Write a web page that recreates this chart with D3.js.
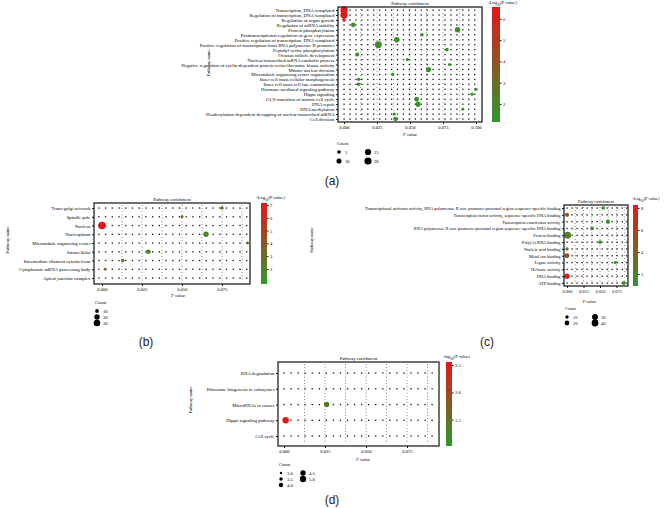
<!DOCTYPE html>
<html><head><meta charset="utf-8">
<script src="https://cdn.jsdelivr.net/npm/d3@7"></script>
<style>body{margin:0;background:#fff}svg{display:block}text{font-family:"Liberation Serif","Times New Roman",serif}</style>
</head><body><svg id="c" width="667" height="508"></svg>
<script>
// ---------- DATA ----------
const aCategories = ["Transcription, DNA-templated","Regulation of transcription, DNA-templated","Regulation of organ growth","Regulation of mRNA stability","Protein phosphorylation","Posttranscriptional regulation of gene expression","Positive regulation of transcription, DNA-templated","Positive regulation of transcription from RNA polymerase II promoter","Peptidyl-serine phosphorylation","Ovarian follicle development","Nuclear-transcribed mRNA catabolic process","Negative regulation of cyclin-dependent protein serine/threonine kinase activity","Mitotic nuclear division","Microtubule organizing center organization","Inner cell mass cellular morphogenesis","Inner cell mass cell fate commitment","Hormone-mediated signaling pathway","Hippo signaling","G1/S transition of mitotic cell cycle","DNA repair","DNA methylation","Deadenylation-dependent decapping of nuclear-transcribed mRNA","Cell division"];
const aPointCat   = [0,1,2,3,4,5,6,7,8,9,10,11,12,13,14,15,16,17,18,19,20,21,22];
const aPointP     = [0.000,0.000,0.000,0.007,0.086,0.059,0.040,0.026,0.078,0.010,0.048,0.080,0.064,0.037,0.011,0.011,0.100,0.097,0.055,0.056,0.090,0.038,0.039];
const aPointCount = [20,20,5,8,12,5,12,18,5,6,4,4,10,4,4,5,4,4,9,10,4,4,7];
const aPointLogP  = [6.5,6.3,6.0,1.6,1.6,1.5,1.6,1.8,1.5,1.6,1.4,1.4,1.5,1.4,1.5,1.5,1.4,1.4,1.5,1.5,1.4,1.4,1.5];
const aXTicks = [0,0.025,0.05,0.075,0.1];
const aCbarTicks = [2,3,4,5,6];
const aLegendCounts = [5,10,15,20];
const aBgP = [0.000,0.0045,0.009,0.0135,0.018,0.0225,0.027,0.0315,0.036,0.0405,0.045,0.0495,0.054,0.0585,0.063,0.0675,0.072,0.0765,0.081,0.0855,0.090,0.0945,0.099];

const bCategories = ["Trans-golgi network","Spindle pole","Nucleus","Nucleoplasm","Microtubule organizing center","Intracellular","Intermediate filament cytoskeleton","Cytoplasmic mRNA processing body","Apical junction complex"];
const bPointCat   = [0,1,2,3,4,5,6,7];
const bPointP     = [0.075,0.050,0.000,0.065,0.091,0.029,0.013,0.002];
const bPointCount = [8,6,40,20,6,15,8,6];
const bPointLogP  = [2.3,2.0,7.0,1.8,2.0,2.0,2.4,2.4];
const bXTicks = [0,0.025,0.05,0.075];
const bCbarTicks = [2,3,4,5,6,7];
const bLegendCounts = [10,20,30];
const bBgP = [-0.002,0.0022,0.0064,0.0106,0.0148,0.019,0.0232,0.0274,0.0316,0.0358,0.040,0.0442,0.0484,0.0526,0.0568,0.061,0.0652,0.0694,0.0736,0.0778,0.082,0.0862,0.0904];

const cCategories = ["Transcriptional activator activity, RNA polymerase II core promoter proximal region sequence-specific binding","Transcription factor activity, sequence-specific DNA binding","Transcription coactivator activity","RNA polymerase II core promoter proximal region sequence-specific DNA binding","Protein binding","Poly(A) RNA binding","Nucleic acid binding","Metal ion binding","Ligase activity","Helicase activity","DNA binding","ATP binding"];
const cPointCat   = [0,1,2,3,4,5,6,7,8,10,11];
const cPointP     = [0.055,0.000,0.062,0.038,0.001,0.050,0.000,0.000,0.073,0.000,0.086];
const cPointCount = [10,15,15,12,40,12,10,20,8,25,15];
const cPointLogP  = [1.5,4.8,1.6,1.8,2.3,1.6,3.3,5.0,1.5,8.0,1.5];
const cXTicks = [0,0.025,0.05,0.075];
const cCbarTicks = [2,4,6,8];
const cLegendCounts = [10,20,30,40];
const cBgP = [0.000,0.0076,0.0152,0.0228,0.0304,0.038,0.0456,0.0532,0.0608,0.0684,0.076,0.0836,0.0905];

const dCategories = ["RNA degradation","Ribosome biogenesis in eukaryotes","MicroRNAs in cancer","Hippo signaling pathway","Cell cycle"];
const dPointCat   = [2,3];
const dPointP     = [0.026,0.001];
const dPointCount = [4.5,5.0];
const dPointLogP  = [1.4,2.55];
const dXTicks = [0,0.025,0.05,0.075];
const dCbarTicks = [1.5,2.0,2.5];
const dLegendCounts = [3.0,3.5,4.0,4.5,5.0];
const dBgP = [0.000,0.0043,0.0086,0.0129,0.0172,0.0215,0.0258,0.0301,0.0344,0.0387,0.043,0.0473,0.0516,0.0559,0.0602,0.0645,0.0688,0.0731,0.0774,0.0817,0.086,0.0903];

const gridP = [0.0125,0.025,0.0375,0.05,0.0625,0.075,0.0875];

// ---------- DRAW ----------
const svg = d3.select("#c");
const LOW = "#2b9a2b", HIGH = "#e8141c";
let gid = 0;

function panel(o){
  const g = svg.append("g");
  const x = d3.scaleLinear().domain([0,0.1]).range(o.xr);
  const y = d3.scalePoint().domain(o.cats).range(o.yr);
  const col = d3.scaleLinear().domain(o.cdom).range([LOW,HIGH]).interpolate(d3.interpolateRgb).clamp(true);
  const r = o.rScale;
  const [bx0,bx1,by0,by1] = o.box;
  g.selectAll(".vg").data(gridP.filter(p=>x(p)<bx1-2)).join("line")
    .attr("x1",d=>x(d)).attr("x2",d=>x(d)).attr("y1",by0+2).attr("y2",by1-2)
    .attr("stroke","#111").attr("stroke-width",0.7).attr("stroke-dasharray","0.7,"+o.vdash);
  const bg=[];
  o.cats.forEach(c=>o.bg.forEach(p=>bg.push({c,p})));
  g.selectAll(".bg").data(bg).join("rect")
    .attr("x",d=>x(d.p)-0.6).attr("y",d=>y(d.c)-0.6).attr("width",1.3).attr("height",1.3).attr("fill","#111");
  const pts = o.pc.map((c,i)=>({c:o.cats[c],p:o.pp[i],n:o.pn[i],v:o.pv[i]}));
  g.selectAll(".pt").data(pts).join("circle")
    .attr("cx",d=>x(d.p)).attr("cy",d=>y(d.c)).attr("r",d=>r(d.n)).attr("fill",d=>col(d.v));
  g.append("rect").attr("x",bx0).attr("y",by0).attr("width",bx1-bx0).attr("height",by1-by0)
    .attr("fill","none").attr("stroke","#111").attr("stroke-width",o.bw);
  const xa = g.append("g").attr("transform",`translate(0,${by1})`)
    .call(d3.axisBottom(x).tickValues(o.xt).tickFormat(d3.format(".3f")).tickSize(2).tickPadding(2));
  xa.select(".domain").remove();
  xa.selectAll("text").attr("font-size",o.fs).attr("font-family","Liberation Serif").attr("fill","#000");
  xa.selectAll("line").attr("stroke","#111");
  const ya = g.append("g").attr("transform",`translate(${bx0},0)`)
    .call(d3.axisLeft(y).tickSize(2).tickPadding(1.5));
  ya.select(".domain").remove();
  ya.selectAll("text").attr("font-size",o.yfs).attr("font-family","Liberation Serif").attr("fill","#000");
  ya.selectAll("line").attr("stroke","#111");
  g.append("text").attr("x",(bx0+bx1)/2).attr("y",by0-2.5).attr("text-anchor","middle").attr("font-size",o.fs).attr("fill","#000").text("Pathway enrichment");
  g.append("text").attr("x",o.pvx).attr("y",o.pvy).attr("text-anchor","middle").attr("font-size",o.fs).attr("font-style","italic").attr("fill","#000").text("P value");
  g.append("text").attr("transform",`translate(${o.pn_x},${o.pn_y}) rotate(-90)`).attr("text-anchor","middle").attr("font-size",o.fs).attr("fill","#000").text("Pathway name");
  const cb = o.cb; const id="gr"+(gid++);
  const grad = svg.append("defs").append("linearGradient").attr("id",id).attr("x1",0).attr("x2",0).attr("y1",1).attr("y2",0);
  grad.append("stop").attr("offset",0).attr("stop-color",LOW);
  grad.append("stop").attr("offset",1).attr("stop-color",HIGH);
  g.append("rect").attr("x",cb.x).attr("y",by0).attr("width",cb.w).attr("height",by1-by0).attr("fill",`url(#${id})`);
  const cy = d3.scaleLinear().domain(cb.dom).range([by1,by0]);
  const ca = g.append("g").attr("transform",`translate(${cb.x+cb.w},0)`)
    .call(d3.axisRight(cy).tickValues(o.ct).tickFormat(o.ctf).tickSize(1.5).tickPadding(1.5));
  ca.select(".domain").remove();
  ca.selectAll("text").attr("font-size",o.fs).attr("font-family","Liberation Serif").attr("fill","#000");
  ca.selectAll("line").attr("stroke","#111");
  const lt = g.append("text").attr("x",cb.lx).attr("y",cb.ly).attr("font-size",o.fs).attr("fill","#000");
  lt.append("tspan").text(o.logWord);
  lt.append("tspan").attr("font-size",o.fs*0.7).attr("dy",1.5).text("10");
  lt.append("tspan").attr("dy",-1.5).text("(P value)");
  const L = o.leg;
  g.append("text").attr("x",L.x-2).attr("y",L.y).attr("font-size",o.fs).attr("fill","#000").text("Count");
  L.items.forEach((n,i)=>{
    const cx = L.x + Math.floor(i/L.per)*L.dx, yy = L.y + 7 + (i%L.per)*L.dy;
    g.append("circle").attr("cx",cx).attr("cy",yy).attr("r",r(n)).attr("fill","#000");
    g.append("text").attr("x",cx+6).attr("y",yy+1.6).attr("font-size",o.fs).attr("fill","#000").text(o.lf(n));
  });
  svg.append("text").attr("x",o.lab[0]).attr("y",o.lab[1]).attr("text-anchor","middle")
    .attr("font-size",12).attr("fill","#222").style("font-family","Liberation Sans, Arial, sans-serif").text(o.lab[2]);
}

panel({cats:aCategories,pc:aPointCat,pp:aPointP,pn:aPointCount,pv:aPointLogP,bg:aBgP,
  xr:[344,476],yr:[10,119],box:[338,482,7,122],bw:1.2,fs:4.6,yfs:4.8,vdash:3.2,
  rScale:d3.scaleSqrt().domain([0,20]).range([0,3.6]),cdom:[1.15,6.56],
  xt:aXTicks,ct:aCbarTicks,ctf:d3.format("d"),
  cb:{x:492,w:8,dom:[1.15,6.56],lx:488,ly:4},logWord:"-Log",
  pvx:410,pvy:136,pn_x:210,pn_y:63,
  leg:{x:339,y:145,dy:9,dx:29,per:2,items:aLegendCounts},lf:d3.format("d"),
  lab:[332,185,"(a)"]});

panel({cats:bCategories,pc:bPointCat,pp:bPointP,pn:bPointCount,pv:bPointLogP,bg:bBgP,
  xr:[102,262],yr:[208,278],box:[94,250,203,284],bw:1.2,fs:4.6,yfs:4.8,vdash:2.5,
  rScale:d3.scaleSqrt().domain([0,40]).range([0,3.8]),cdom:[0.83,7.16],
  xt:bXTicks,ct:bCbarTicks,ctf:d3.format("d"),
  cb:{x:261,w:6,dom:[0.83,7.16],lx:256,ly:199},logWord:"-Log",
  pvx:178,pvy:297,pn_x:9,pn_y:240,
  leg:{x:97,y:304,dy:6,dx:20,per:3,items:bLegendCounts},lf:d3.format("d"),
  lab:[146,346,"(b)"]});

panel({cats:cCategories,pc:cPointCat,pp:cPointP,pn:cPointCount,pv:cPointLogP,bg:cBgP,
  xr:[567,633],yr:[208,283],box:[564,628,205,286],bw:1.2,fs:4.4,yfs:4.4,vdash:2.5,
  rScale:d3.scaleSqrt().domain([0,40]).range([0,3.4]),cdom:[0.91,8.27],
  xt:cXTicks,ct:cCbarTicks,ctf:d3.format("d"),
  cb:{x:633,w:5,dom:[0.91,8.27],lx:632,ly:200},logWord:"-Log",
  pvx:589,pvy:303,pn_x:313,pn_y:240,
  leg:{x:567,y:310,dy:6,dx:28,per:2,items:cLegendCounts},lf:d3.format("d"),
  lab:[487,346,"(c)"]});

panel({cats:dCategories,pc:dPointCat,pp:dPointP,pn:dPointCount,pv:dPointLogP,bg:dBgP,
  xr:[284,448],yr:[373,436],box:[278,439,362,446],bw:1.2,fs:4.6,yfs:4.8,vdash:2.5,
  rScale:d3.scaleLinear().domain([3,5]).range([1.2,3.2]),cdom:[1.02,2.556],
  xt:dXTicks,ct:dCbarTicks,ctf:d3.format(".1f"),
  cb:{x:446,w:6,dom:[1.02,2.556],lx:443,ly:358},logWord:"-log",
  pvx:363,pvy:461,pn_x:192,pn_y:400,
  leg:{x:281,y:466,dy:6,dx:22,per:3,items:dLegendCounts},lf:d3.format(".1f"),
  lab:[332,504,"(d)"]});
</script>
</body></html>
